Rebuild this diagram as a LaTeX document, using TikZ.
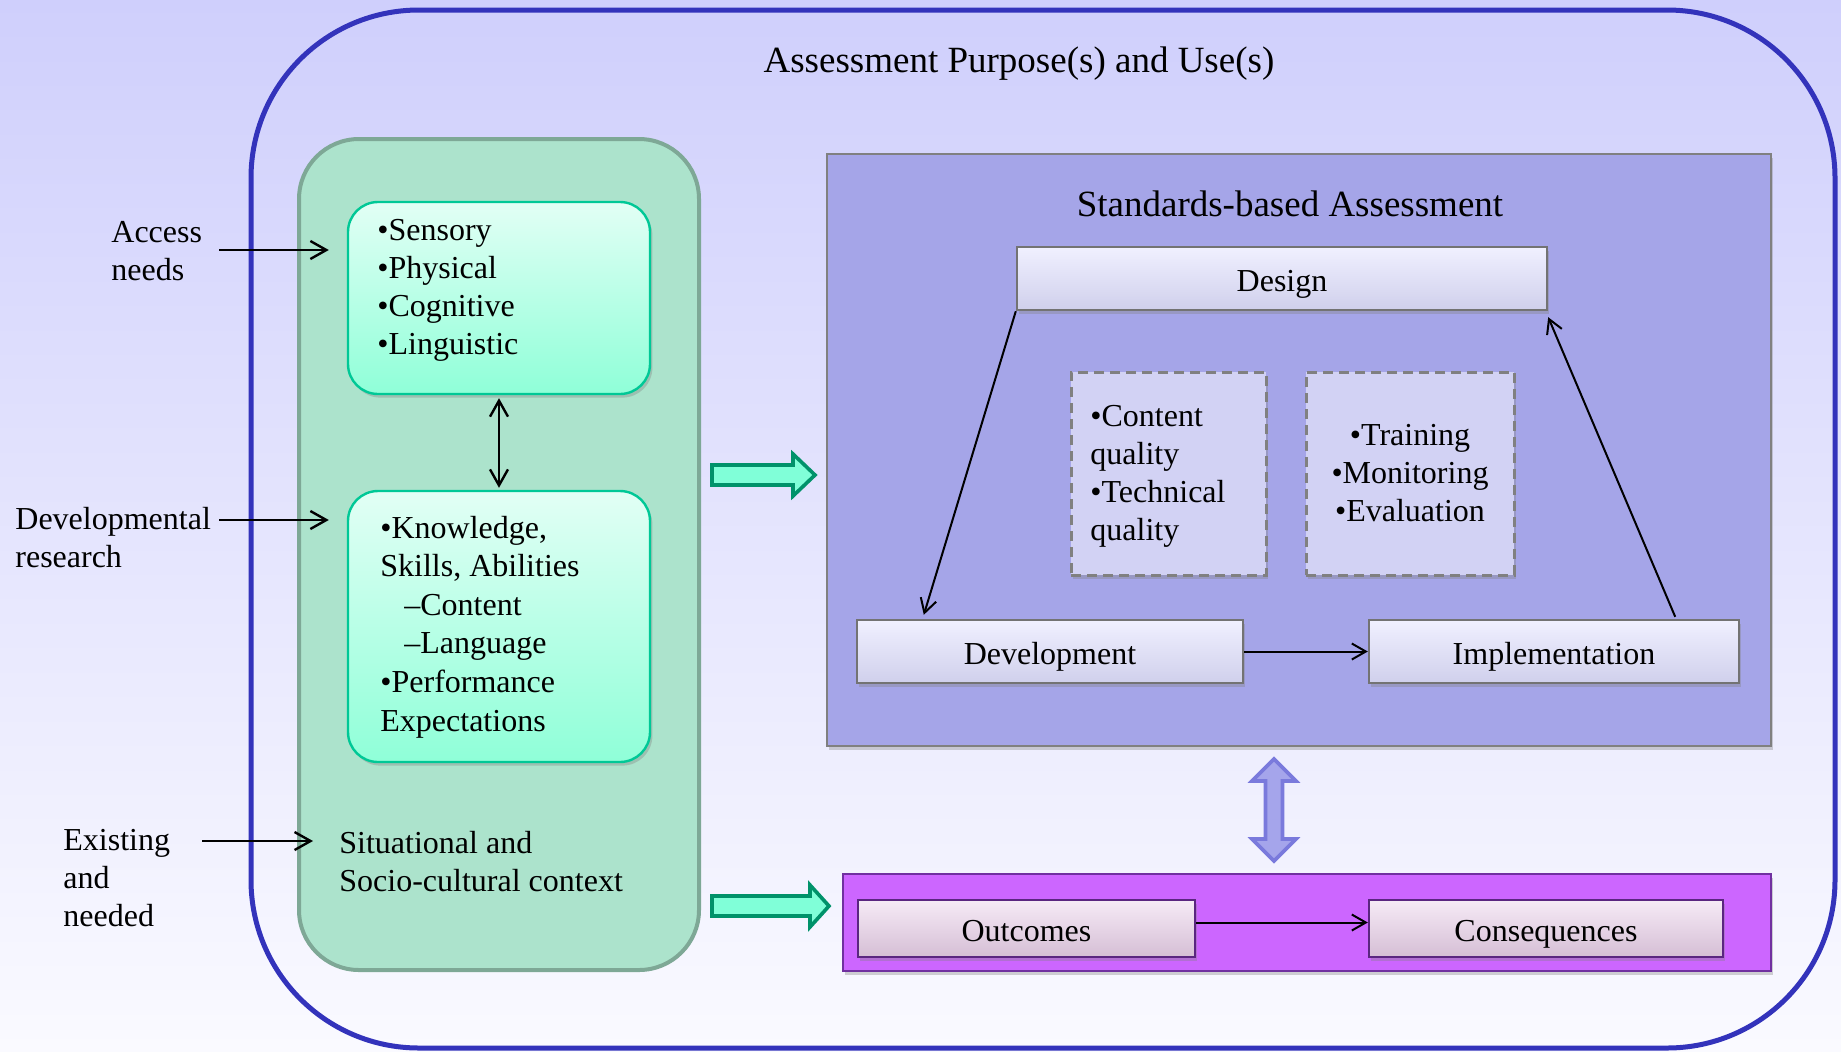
\documentclass[tikz,border=0pt]{standalone}
\usepackage{fontspec}
\setmainfont{Liberation Serif}
\usetikzlibrary{arrows.meta,shadows}

\definecolor{bgtop}{RGB}{207,207,252}
\definecolor{bgbot}{RGB}{250,250,255}
\definecolor{outerline}{RGB}{51,51,187}
\definecolor{ctxfill}{RGB}{172,227,204}
\definecolor{ctxline}{RGB}{126,168,150}
\definecolor{aquatop}{RGB}{226,255,245}
\definecolor{aquabot}{RGB}{143,255,216}
\definecolor{aqualine}{RGB}{0,200,150}
\definecolor{sbafill}{RGB}{165,165,232}
\definecolor{bevlav}{RGB}{222,222,255}
\definecolor{qfill}{RGB}{210,210,244}
\definecolor{purpfill}{RGB}{204,102,255}
\definecolor{purpline}{RGB}{112,48,160}
\definecolor{pinkfill}{RGB}{232,204,232}
\definecolor{greenarr}{RGB}{128,255,216}
\definecolor{greenarrline}{RGB}{0,146,106}
\definecolor{lavarr}{RGB}{165,165,235}
\definecolor{lavarrline}{RGB}{122,122,220}

\begin{document}
\begin{tikzpicture}[x=0.5pt, y=-0.5pt,
	body/.style={font=\fontsize{16}{19}\selectfont, inner sep=0pt, align=left},
	head/.style={font=\fontsize{18.5}{22}\selectfont, inner sep=0pt},
	softshadow/.style={drop shadow={shadow xshift=1.2pt, shadow yshift=-1.8pt, opacity=0.35}},
	ctxframe/.style={draw=ctxline, fill=ctxfill, line width=2pt, rounded corners=30pt},
	aquabox/.style={draw=aqualine, line width=1.2pt, rounded corners=15pt, top color=aquatop, bottom color=aquabot, softshadow},
	sbaframe/.style={draw=gray, fill=sbafill, line width=1pt, softshadow},
	bevel/.style={draw=gray!90!black, line width=1.2pt, top color=white!55!bevlav, middle color=bevlav, bottom color=bevlav!85!gray, softshadow, body, align=center, text height=14pt, text depth=1.5pt},
	qbox/.style={draw=gray, fill=qfill, line width=1.5pt, dash pattern=on 5pt off 3pt, softshadow},
	purpframe/.style={draw=purpline, fill=purpfill, line width=1pt, softshadow},
	pinkbevel/.style={draw=purpline!80!black, line width=1.2pt, top color=white!60!pinkfill, middle color=pinkfill, bottom color=pinkfill!82!gray, softshadow, body, align=center, text height=14pt, text depth=1.5pt},
	greenarrow/.style={draw=greenarrline, fill=greenarr, line width=1.8pt, line join=miter},
	lavarrow/.style={draw=lavarrline, fill=lavarr, line width=1.8pt, line join=miter},
	feed/.style={-{Straight Barb[length=8pt,width=9pt]}, line width=1.2pt},
	flow/.style={-{Straight Barb[length=7pt,width=8pt]}, line width=1pt}]

	\useasboundingbox (0,0) rectangle (1841,1051);
	\shade[top color=bgtop, bottom color=bgbot] (0,0) rectangle (1841,1051);

	% outer frame
	\draw[outerline, line width=2.5pt, rounded corners=84pt] (251,10) rectangle (1835,1048);
	\node[head, anchor=base] (purpose) at (1019,72) {Assessment Purpose(s) and Use(s)};

	% student side (multi-line texts sit on the baseline of their last line)
	\node[ctxframe, minimum width=200pt, minimum height=415.5pt] (ctx) at (499,554.5) {};
	\node[aquabox, minimum width=151pt, minimum height=96pt] (access) at (499,298) {};
	\node[body, anchor=base west] (accesslist) at (377,354) {•Sensory\\•Physical\\•Cognitive\\•Linguistic};
	\node[aquabox, minimum width=151pt, minimum height=135.5pt] (ksa) at (499,626.5) {};
	\node[body, anchor=base west, font=\fontsize{16}{19.3}\selectfont] (ksalist) at (380,731)
		{•Knowledge,\\Skills, Abilities\\\hspace*{12pt}–Content\\\hspace*{12pt}–Language\\•Performance\\Expectations};
	\node[body, anchor=base west] (situ) at (339,891) {Situational and\\Socio-cultural context};
	\draw[feed, {Straight Barb[length=8pt,width=9pt]}-{Straight Barb[length=8pt,width=9pt]}, shorten <=1.5pt, shorten >=1pt]
		(access.south) -- (ksa.north);

	% inputs
	\node[body, anchor=base west] (accneeds) at (111,280) {Access\\needs};
	\node[body, anchor=base west] (devres) at (15,567) {Developmental\\research};
	\node[body, anchor=base west] (existing) at (63,926) {Existing\\and\\needed};
	\coordinate (accfrom) at (219,250);
	\coordinate (devfrom) at (219,520);
	\coordinate (exifrom) at (202,841);
	\draw[feed, shorten >=9pt] (accfrom) -- (accfrom -| access.west);
	\draw[feed, shorten >=9pt] (devfrom) -- (devfrom -| ksa.west);
	\draw[feed, shorten >=13pt] (exifrom) -- (exifrom -| situ.west);

	% standards-based assessment
	\node[sbaframe, minimum width=472pt, minimum height=296pt] (sba) at (1299,450) {};
	\node[head, anchor=base] (sbatitle) at (1290,216) {Standards-based Assessment};
	\node[bevel, minimum width=265pt, minimum height=31.5pt] (design) at (1282,278.5) {Design};
	\node[bevel, minimum width=193pt, minimum height=31.5pt] (dev) at (1050,651.5) {Development};
	\node[bevel, minimum width=185pt, minimum height=31.5pt] (impl) at (1554,651.5) {Implementation};
	\node[qbox, minimum width=97.5pt, minimum height=101.5pt] (quality) at (1168.5,473.5) {};
	\node[body, anchor=base west] (qualitytxt) at (1090,540) {•Content\\quality\\•Technical\\quality};
	\node[qbox, minimum width=104pt, minimum height=101.5pt] (process) at (1410,473.5) {};
	\node[body, align=center, anchor=base] (processtxt) at (1410,521) {•Training\\•Monitoring\\•Evaluation};
	\draw[flow] (design.south west) -- ([xshift=34pt, yshift=2pt]dev.north west);
	\draw[flow] (dev.east) -- (impl.west);
	\draw[flow] ([xshift=-32.5pt, yshift=1pt]impl.north east) -- ([yshift=-3pt]design.south east);

	% outcomes
	\node[purpframe, minimum width=464pt, minimum height=48.5pt] (effects) at (1307,922.5) {};
	\node[pinkbevel, minimum width=168.5pt, minimum height=28.5pt] (outc) at (1026.5,928.5) {Outcomes};
	\node[pinkbevel, minimum width=177pt, minimum height=28.5pt] (cons) at (1546,928.5) {Consequences};
	\draw[flow] ([yshift=3pt]outc.east) -- ([yshift=3pt]cons.west);

	% block arrows
	\draw[greenarrow] (712,465) -- ++(81,0) -- ++(0,-11) -- ++(22,21) -- ++(-22,21) -- ++(0,-11) -- ++(-81,0) -- cycle;
	\draw[greenarrow] (712,896) -- ++(98,0) -- ++(0,-11) -- ++(19,21) -- ++(-19,21) -- ++(0,-11) -- ++(-98,0) -- cycle;
	\draw[lavarrow] (1274,759) -- (1296,781) -- (1282.5,781) -- (1282.5,839) -- (1296,839) -- (1274,861)
		-- (1252,839) -- (1265.5,839) -- (1265.5,781) -- (1252,781) -- cycle;

\end{tikzpicture}
\end{document}
